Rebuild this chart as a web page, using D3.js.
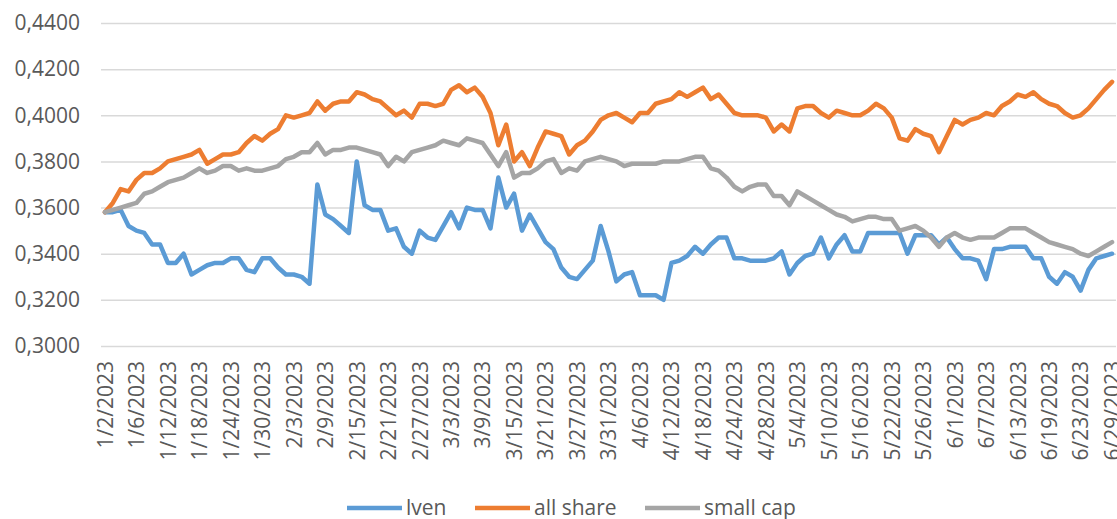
<!DOCTYPE html>
<html>
<head>
<meta charset="utf-8">
<script src="https://cdn.jsdelivr.net/npm/d3@7"></script>
<style>
  body { margin: 0; background: #fff; }
  svg { display: block; font-family: "Open Sans", sans-serif; }
</style>
</head>
<body>
<svg id="chart"></svg>
<script>
const textGrey = "#595959";
const gridGrey = "#d9d9d9";

// trading days shown on the category axis
const dates = [
  "1/2/2023","1/3/2023","1/4/2023","1/5/2023","1/6/2023","1/9/2023","1/10/2023","1/11/2023","1/12/2023","1/13/2023",
  "1/16/2023","1/17/2023","1/18/2023","1/19/2023","1/20/2023","1/23/2023","1/24/2023","1/25/2023","1/26/2023","1/27/2023",
  "1/30/2023","1/31/2023","2/1/2023","2/2/2023","2/3/2023","2/6/2023","2/7/2023","2/8/2023","2/9/2023","2/10/2023",
  "2/13/2023","2/14/2023","2/15/2023","2/16/2023","2/17/2023","2/20/2023","2/21/2023","2/22/2023","2/23/2023","2/24/2023",
  "2/27/2023","2/28/2023","3/1/2023","3/2/2023","3/3/2023","3/6/2023","3/7/2023","3/8/2023","3/9/2023","3/10/2023",
  "3/13/2023","3/14/2023","3/15/2023","3/16/2023","3/17/2023","3/20/2023","3/21/2023","3/22/2023","3/23/2023","3/24/2023",
  "3/27/2023","3/28/2023","3/29/2023","3/30/2023","3/31/2023","4/3/2023","4/4/2023","4/5/2023","4/6/2023","4/7/2023",
  "4/10/2023","4/11/2023","4/12/2023","4/13/2023","4/14/2023","4/17/2023","4/18/2023","4/19/2023","4/20/2023","4/21/2023",
  "4/24/2023","4/25/2023","4/26/2023","4/27/2023","4/28/2023","5/1/2023","5/2/2023","5/3/2023","5/4/2023","5/5/2023",
  "5/8/2023","5/9/2023","5/10/2023","5/11/2023","5/12/2023","5/15/2023","5/16/2023","5/17/2023","5/18/2023","5/19/2023",
  "5/22/2023","5/23/2023","5/24/2023","5/25/2023","5/26/2023","5/29/2023","5/30/2023","5/31/2023","6/1/2023","6/2/2023",
  "6/5/2023","6/6/2023","6/7/2023","6/8/2023","6/9/2023","6/12/2023","6/13/2023","6/14/2023","6/15/2023","6/16/2023",
  "6/19/2023","6/20/2023","6/21/2023","6/22/2023","6/23/2023","6/26/2023","6/27/2023","6/28/2023","6/29/2023"
];

const tickLabels = [
  "1/2/2023","1/6/2023","1/12/2023","1/18/2023","1/24/2023","1/30/2023","2/3/2023","2/9/2023","2/15/2023",
  "2/21/2023","2/27/2023","3/3/2023","3/9/2023","3/15/2023","3/21/2023","3/27/2023","3/31/2023","4/6/2023",
  "4/12/2023","4/18/2023","4/24/2023","4/28/2023","5/4/2023","5/10/2023","5/16/2023","5/22/2023","5/26/2023",
  "6/1/2023","6/7/2023","6/13/2023","6/19/2023","6/23/2023","6/29/2023"
];

const yTicks = [0.30, 0.32, 0.34, 0.36, 0.38, 0.40, 0.42, 0.44];

const iven = [
  0.358,0.358,0.359,0.352,0.350,0.349,0.344,0.344,0.336,0.336,
  0.340,0.331,0.333,0.335,0.336,0.336,0.338,0.338,0.333,0.332,
  0.338,0.338,0.334,0.331,0.331,0.330,0.327,0.370,0.357,0.355,
  0.352,0.349,0.380,0.361,0.359,0.359,0.350,0.351,0.343,0.340,
  0.350,0.347,0.346,0.352,0.358,0.351,0.360,0.359,0.359,0.351,
  0.373,0.360,0.366,0.350,0.357,0.351,0.345,0.342,0.334,0.330,
  0.329,0.333,0.337,0.352,0.341,0.328,0.331,0.332,0.322,0.322,
  0.322,0.320,0.336,0.337,0.339,0.343,0.340,0.344,0.347,0.347,
  0.338,0.338,0.337,0.337,0.337,0.338,0.341,0.331,0.336,0.339,
  0.340,0.347,0.338,0.344,0.348,0.341,0.341,0.349,0.349,0.349,
  0.349,0.349,0.340,0.348,0.348,0.348,0.344,0.347,0.342,0.338,
  0.338,0.337,0.329,0.342,0.342,0.343,0.343,0.343,0.338,0.338,
  0.330,0.327,0.332,0.330,0.324,0.333,0.338,0.339,0.340
];

const allShare = [
  0.358,0.362,0.368,0.367,0.372,0.375,0.375,0.377,0.380,0.381,
  0.382,0.383,0.385,0.379,0.381,0.383,0.383,0.384,0.388,0.391,
  0.389,0.392,0.394,0.400,0.399,0.400,0.401,0.406,0.402,0.405,
  0.406,0.406,0.410,0.409,0.407,0.406,0.403,0.400,0.402,0.399,
  0.405,0.405,0.404,0.405,0.411,0.413,0.410,0.412,0.408,0.401,
  0.387,0.396,0.380,0.384,0.378,0.386,0.393,0.392,0.391,0.383,
  0.387,0.389,0.393,0.398,0.400,0.401,0.399,0.397,0.401,0.401,
  0.405,0.406,0.407,0.410,0.408,0.410,0.412,0.407,0.409,0.405,
  0.401,0.400,0.400,0.400,0.399,0.393,0.396,0.393,0.403,0.404,
  0.404,0.401,0.399,0.402,0.401,0.400,0.400,0.402,0.405,0.403,
  0.399,0.390,0.389,0.394,0.392,0.391,0.384,0.391,0.398,0.396,
  0.398,0.399,0.401,0.400,0.404,0.406,0.409,0.408,0.410,0.407,
  0.405,0.404,0.401,0.399,0.400,0.403,0.407,0.411,0.4145
];

const smallCap = [
  0.358,0.359,0.360,0.361,0.362,0.366,0.367,0.369,0.371,0.372,
  0.373,0.375,0.377,0.375,0.376,0.378,0.378,0.376,0.377,0.376,
  0.376,0.377,0.378,0.381,0.382,0.384,0.384,0.388,0.383,0.385,
  0.385,0.386,0.386,0.385,0.384,0.383,0.378,0.382,0.380,0.384,
  0.385,0.386,0.387,0.389,0.388,0.387,0.390,0.389,0.388,0.383,
  0.378,0.384,0.373,0.375,0.375,0.377,0.380,0.381,0.375,0.377,
  0.376,0.380,0.381,0.382,0.381,0.380,0.378,0.379,0.379,0.379,
  0.379,0.380,0.380,0.380,0.381,0.382,0.382,0.377,0.376,0.373,
  0.369,0.367,0.369,0.370,0.370,0.365,0.365,0.361,0.367,0.365,
  0.363,0.361,0.359,0.357,0.356,0.354,0.355,0.356,0.356,0.355,
  0.355,0.350,0.351,0.352,0.350,0.347,0.343,0.347,0.349,0.347,
  0.346,0.347,0.347,0.347,0.349,0.351,0.351,0.351,0.349,0.347,
  0.345,0.344,0.343,0.342,0.340,0.339,0.341,0.343,0.345
];

const seriesNames = ["lven", "all share", "small cap"];
const seriesColors = ["#5b9bd5", "#ed7d31", "#a5a5a5"];
const seriesValues = [iven, allShare, smallCap];

const W = 1117, H = 519;
const plot = { left: 101, right: 1116, top: 23, bottom: 346 };

const svg = d3.select("#chart")
  .attr("width", W)
  .attr("height", H);

// Scales
const x = d3.scalePoint()
  .domain(dates)
  .range([plot.left, plot.right])
  .padding(0.5);

const y = d3.scaleLinear()
  .domain([0.30, 0.44])
  .range([plot.bottom, plot.top]);

const fmt = d3.formatLocale({ decimal: ",", thousands: ".", grouping: [3], currency: ["", ""] }).format(".4f");

// Gridlines + y labels
const yAxis = svg.append("g")
  .attr("transform", `translate(${plot.left},0)`)
  .call(d3.axisLeft(y)
    .tickValues(yTicks)
    .tickSize(-(plot.right - plot.left))
    .tickPadding(21)
    .tickFormat(fmt));

yAxis.select(".domain").remove();
yAxis.selectAll(".tick line")
  .attr("stroke", gridGrey)
  .attr("stroke-width", 1.5);
yAxis.selectAll(".tick text")
  .attr("fill", textGrey)
  .style("font-size", "21px")
  .style("font-family", "'Open Sans', sans-serif");

// X labels (rotated)
const xAxis = svg.append("g")
  .attr("transform", `translate(0,${plot.bottom})`)
  .call(d3.axisBottom(x).tickValues(tickLabels).tickSize(0));

xAxis.select(".domain").remove();
xAxis.selectAll(".tick text")
  .attr("fill", textGrey)
  .style("font-size", "21px")
  .style("font-family", "'Open Sans', sans-serif")
  .attr("text-anchor", "end")
  .attr("transform", "rotate(-90)")
  .attr("x", -15)
  .attr("y", 0)
  .attr("dy", "0.35em");

// Lines
const line = d3.line()
  .x((d, i) => x(dates[i]))
  .y(d => y(d));

seriesValues.forEach((vals, k) => {
  svg.append("path")
    .datum(vals)
    .attr("fill", "none")
    .attr("stroke", seriesColors[k])
    .attr("stroke-width", 4.5)
    .attr("stroke-linejoin", "round")
    .attr("stroke-linecap", "round")
    .attr("d", line);
});

// Legend
const legendX = [347, 475, 645];
const legend = svg.append("g").attr("transform", "translate(0,508)");
seriesNames.forEach((name, k) => {
  const g = legend.append("g").attr("transform", `translate(${legendX[k]},0)`);
  g.append("line")
    .attr("x1", 0).attr("x2", 55)
    .attr("y1", 0).attr("y2", 0)
    .attr("stroke", seriesColors[k])
    .attr("stroke-width", 4.5);
  g.append("text")
    .attr("x", 59)
    .attr("y", 0)
    .attr("dy", "0.35em")
    .attr("fill", textGrey)
    .style("font-size", "21px")
    .text(name);
});
</script>
</body>
</html>
